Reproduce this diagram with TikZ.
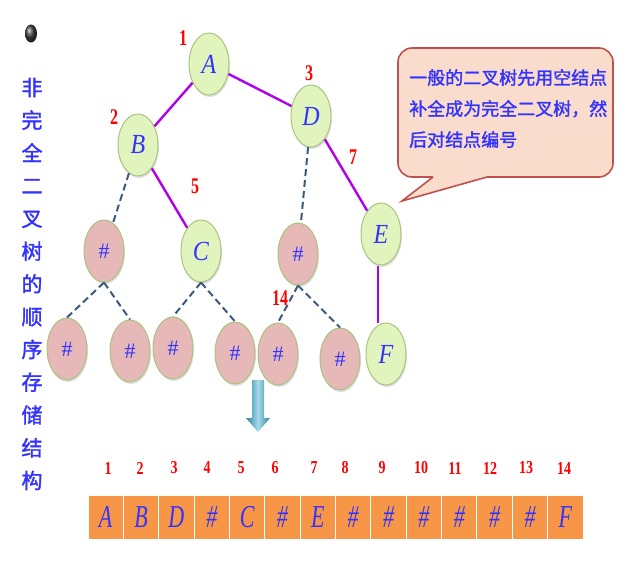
\documentclass[tikz,border=0pt]{standalone}
\usepackage{fontspec}
\setmainfont{Liberation Serif}
\newfontfamily\cjk[FakeBold=1.6]{Noto Sans CJK SC}
\usetikzlibrary{shapes.geometric,shadows,calc}
\definecolor{Ink}{HTML}{3333FF}
\definecolor{NumRed}{HTML}{FF0000}
\definecolor{Leaf}{HTML}{E2F4BE}
\definecolor{LeafLine}{HTML}{A9C47F}
\definecolor{Rose}{HTML}{E6B8B7}
\definecolor{Path}{HTML}{B000E8}
\definecolor{Dash}{HTML}{3B5B7E}
\definecolor{Cell}{HTML}{F79646}
\definecolor{Note}{HTML}{F9DCCB}
\definecolor{NoteLine}{HTML}{C0504D}
\definecolor{Drop}{HTML}{3AB0D0}
\newcommand{\Tall}[2][1.4]{\scalebox{1}[#1]{#2}}
\newcommand{\TreeNum}[3]{%
  \node[num] (#1) at (#2) {\Tall{#3}};%
}
\tikzset{
  full/.style={ellipse,draw=LeafLine,line width=1pt,fill=Leaf,minimum width=40pt,
    minimum height=62pt,inner sep=0pt,text=Ink,font=\itshape\fontsize{24}{24}\selectfont,
    drop shadow={opacity=0.25,shadow xshift=1pt,shadow yshift=-2pt}},
  blanknode/.style={full,fill=Rose,font=\fontsize{22}{22}\selectfont},
  realedge/.style={Path,line width=2.4pt},
  blankedge/.style={Dash,line width=2pt,dash pattern=on 7pt off 4pt},
  num/.style={text=NumRed,font=\bfseries\fontsize{16}{16}\selectfont,inner sep=1pt},
  cell/.style={draw=white,line width=1pt,fill=Cell,minimum width=35.36pt,minimum height=44pt,
    inner sep=0pt,text=Ink,font=\itshape\fontsize{22}{22}\selectfont},
  cellnum/.style={text=NumRed,font=\bfseries\fontsize{14}{14}\selectfont,inner sep=1pt}
}
\begin{document}
\begin{tikzpicture}[x=1pt,y=-1pt]
\useasboundingbox (0,0) rectangle (632,565);
% title on the left
\shade[ball color=black!75] (31,33.5) ellipse (6 and 9);
\node[text=Ink,font=\cjk\fontsize{21}{32.75}\selectfont,align=center,inner sep=0pt] (title) at (32,284)
  {非\\完\\全\\二\\叉\\树\\的\\顺\\序\\存\\储\\结\\构};
% tree
\node[full] (A) at (209,64) {\Tall[1.15]{A}};
\node[full] (B) at (138,145) {\Tall[1.15]{B}};
\node[full] (D) at (311,116) {\Tall[1.15]{D}};
\node[blanknode] (h4) at (104,251) {\#};
\node[full] (C) at (201,251) {\Tall[1.15]{C}};
\node[blanknode] (h6) at (298,254) {\#};
\node[full] (E) at (381,234) {\Tall[1.15]{E}};
\node[blanknode] (h8) at (67,349) {\#};
\node[blanknode] (h9) at (130,351) {\#};
\node[blanknode] (h10) at (173,348) {\#};
\node[blanknode] (h11) at (235,353) {\#};
\node[blanknode] (h12) at (278,354) {\#};
\node[blanknode] (h13) at (340,359) {\#};
\node[full] (F) at (386,354) {\Tall[1.15]{F}};
\draw[realedge] (A) -- (B);
\draw[realedge] (A) -- (D);
\draw[realedge] (B) -- (C);
\draw[realedge] (D) -- (E);
\draw[realedge] ([xshift=-3pt]E.south) -- ([xshift=-3pt]E.south |- F.north);
\draw[blankedge] (B) -- (h4);
\draw[blankedge] (D) -- (h6);
\foreach \p/\c in {h4/h8,h4/h9,C/h10,C/h11,h6/h12,h6/h13}
  \draw[blankedge] (\p.south) -- (\c.north);
\TreeNum{l1}{183,38}{1}
\TreeNum{l2}{114,117}{2}
\TreeNum{l3}{309,73}{3}
\TreeNum{l5}{195,186}{5}
\TreeNum{l7}{353,157}{7}
\TreeNum{l14}{280,298}{14}
% callout
\draw[NoteLine,line width=1.6pt,fill=Note,rounded corners=14pt] (398,48) rectangle (613,177);
\fill[Note] (433,170) -- (433,177) -- (402,201) -- (487,177) -- (487,170) -- cycle;
\draw[NoteLine,line width=1.6pt,line join=miter] (433,177) -- (402,201) -- (487,177);
\node[text=Ink,font=\cjk\fontsize{18}{31}\selectfont,align=left,anchor=north west,inner sep=0pt] (note) at (409,69)
  {一般的二叉树先用空结点\\补全成为完全二叉树，然\\后对结点编号};
% down arrow
\shade[left color=Drop!75!black,right color=Drop!75!black,middle color=Drop!45]
  (252,380) -- (264,380) -- (264,418) -- (270,418) -- (258,432) -- (246,418) -- (252,418) -- cycle;
% array
\foreach \i/\t/\x in {1/A/108,2/B/140,3/D/174,4/\#/207,5/C/241,6/\#/275,7/E/314,
    8/\#/345,9/\#/382,10/\#/421,11/\#/455,12/\#/490,13/\#/526,14/F/564} {
  \node[cell] (c\i) at ({88+35.36*(\i-0.5)},517) {\Tall[1.45]{\t}};
  \node[cellnum] (n\i) at (\x,468) {\Tall[1.3]{\i}};
}
\end{tikzpicture}
\end{document}
